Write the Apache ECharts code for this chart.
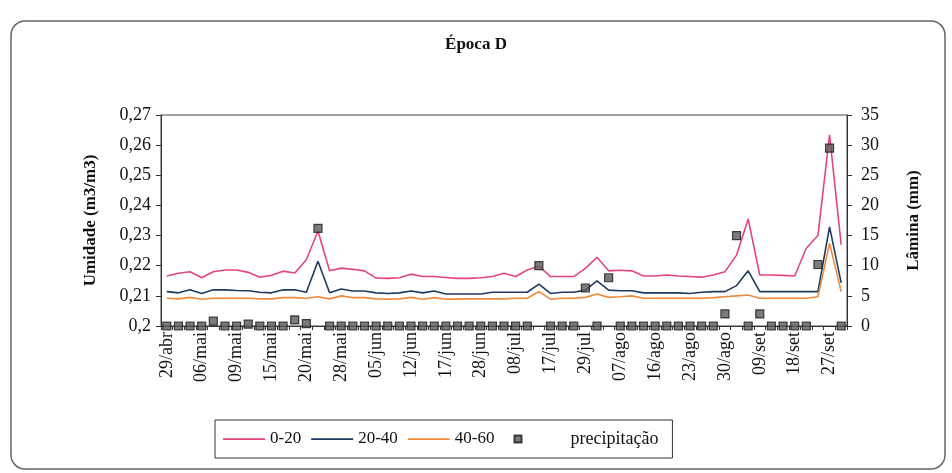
<!DOCTYPE html>
<html>
<head>
<meta charset="utf-8">
<script src="https://cdn.jsdelivr.net/npm/echarts@6/dist/echarts.min.js"></script>
<style>html,body{margin:0;padding:0;background:#fff}#c{width:952px;height:473px}</style>
</head>
<body>
<div id="c"></div>
<script>
const categories = ['29/abr','02/mai','04/mai','06/mai','07/mai','08/mai','09/mai','11/mai','13/mai','15/mai','17/mai','18/mai','20/mai','22/mai','25/mai','28/mai','31/mai','02/jun','05/jun','07/jun','10/jun','12/jun','14/jun','15/jun','17/jun','21/jun','24/jun','28/jun','01/jul','05/jul','08/jul','11/jul','14/jul','17/jul','21/jul','25/jul','29/jul','01/ago','04/ago','07/ago','10/ago','13/ago','16/ago','18/ago','21/ago','23/ago','25/ago','28/ago','30/ago','02/set','06/set','09/set','12/set','15/set','18/set','21/set','24/set','27/set','30/set'];

const s0_20 = [0.2166,0.2175,0.2180,0.2160,0.2180,0.2186,0.2186,0.2178,0.2162,0.2168,0.2182,0.2176,0.2220,0.2315,0.2183,0.2192,0.2188,0.2183,0.2159,0.2158,0.2160,0.2172,0.2164,0.2164,0.2161,0.2158,0.2158,0.2160,0.2164,0.2175,0.2164,0.2186,0.2199,0.2164,0.2164,0.2164,0.2191,0.2228,0.2183,0.2185,0.2183,0.2166,0.2166,0.2169,0.2166,0.2164,0.2162,0.2169,0.2180,0.2235,0.2355,0.2169,0.2169,0.2168,0.2166,0.2258,0.2300,0.2634,0.2269];

const s20_40 = [0.2114,0.2110,0.2120,0.2108,0.2120,0.2120,0.2118,0.2117,0.2112,0.2110,0.2120,0.2120,0.2112,0.2215,0.2110,0.2123,0.2116,0.2116,0.2110,0.2108,0.2110,0.2116,0.2110,0.2116,0.2106,0.2106,0.2106,0.2106,0.2112,0.2112,0.2112,0.2112,0.2139,0.2108,0.2112,0.2112,0.2119,0.2150,0.2119,0.2117,0.2117,0.2110,0.2110,0.2110,0.2110,0.2108,0.2112,0.2114,0.2114,0.2134,0.2183,0.2114,0.2114,0.2114,0.2114,0.2114,0.2114,0.2329,0.2143];

const s40_60 = [0.2092,0.2090,0.2095,0.2089,0.2092,0.2092,0.2092,0.2092,0.2090,0.2090,0.2094,0.2094,0.2092,0.2097,0.2090,0.2100,0.2094,0.2094,0.2090,0.2089,0.2090,0.2095,0.2089,0.2094,0.2089,0.2089,0.2090,0.2090,0.2090,0.2090,0.2092,0.2092,0.2114,0.2089,0.2092,0.2092,0.2095,0.2106,0.2095,0.2097,0.2100,0.2092,0.2092,0.2092,0.2092,0.2092,0.2092,0.2094,0.2097,0.2100,0.2103,0.2092,0.2092,0.2092,0.2092,0.2092,0.2097,0.2274,0.2114];

const precipitacao = [0,0,0,0,0.8,0,0,0.3,0,0,0,1.0,0.4,16.2,0,0,0,0,0,0,0,0,0,0,0,0,0,0,0,0,0,0,10.0,0,0,0,6.3,0,8.0,0,0,0,0,0,0,0,0,0,2.0,15.0,0,2.0,0,0,0,0,10.2,29.5,0];

const seriesNames = ['0-20','20-40','40-60','precipitação'];
const leftTicks = {min:0.2, max:0.27, interval:0.01};
const rightTicks = {min:0, max:35, interval:5};

const serif = '"Liberation Serif", "DejaVu Serif", serif';
const lineIcon = 'path://M0,0M42,14M0,6.3h42v1.6h-42z';
const chart = echarts.init(document.getElementById('c'), null, {renderer:'canvas'});
chart.setOption({
  animation:false,
  backgroundColor:'#fff',
  title:{text:'Época D', left:'center', top:31, textStyle:{fontFamily:serif, fontSize:17, fontWeight:'bold', color:'#111'}},
  graphic:[{type:'rect', shape:{x:11,y:21,width:934,height:448,r:14}, style:{fill:'none', stroke:'#666', lineWidth:1.5}, silent:true, z:-1}],
  grid:{left:161, right:105, top:115, bottom:147, show:true, borderColor:'#444', borderWidth:1, backgroundColor:'transparent'},
  legend:{
    left:215, top:420, padding:[10,14,10,8], borderColor:'#333', borderWidth:1,
    itemWidth:42, itemHeight:14, itemGap:10,
    textStyle:{fontFamily:serif, fontSize:17, color:'#111'},
    data:[
      {name:'0-20', icon:lineIcon},{name:'20-40', icon:lineIcon},{name:'40-60', icon:lineIcon},
      {name:'precipitação', icon:'path://M0,0M42,14M9,3.5h7v7h-7z', textStyle:{fontSize:18}}
    ],
    formatter:function(n){ return n==='precipitação' ? '    '+n : n; }
  },
  xAxis:{
    type:'category', data:categories, boundaryGap:true,
    axisLine:{lineStyle:{color:'#333', width:1}},
    axisTick:{show:true, interval:0, length:4, lineStyle:{color:'#333'}},
    axisLabel:{interval:2, rotate:90, fontFamily:serif, fontSize:18, color:'#111', margin:6},
    splitLine:{show:false}
  },
  yAxis:[
    {type:'value', min:leftTicks.min, max:leftTicks.max, interval:leftTicks.interval, position:'left',
     name:'Umidade (m3/m3)', nameLocation:'middle', nameRotate:90, nameGap:62,
     nameTextStyle:{fontFamily:serif, fontSize:17, fontWeight:'bold', color:'#111'},
     axisLine:{show:true, lineStyle:{color:'#333'}},
     axisTick:{show:true, length:5, lineStyle:{color:'#333'}},
     axisLabel:{fontFamily:serif, fontSize:18, color:'#111', margin:10, formatter:function(v){return String(parseFloat(v.toFixed(2))).replace('.',',');}},
     splitLine:{show:false}},
    {type:'value', min:rightTicks.min, max:rightTicks.max, interval:rightTicks.interval, position:'right',
     name:'Lâmina (mm)', nameLocation:'middle', nameRotate:90, nameGap:58,
     nameTextStyle:{fontFamily:serif, fontSize:17, fontWeight:'bold', color:'#111'},
     axisLine:{show:true, lineStyle:{color:'#333'}},
     axisTick:{show:true, length:5, lineStyle:{color:'#333'}},
     axisLabel:{fontFamily:serif, fontSize:18, color:'#111', margin:14},
     splitLine:{show:false}}
  ],
  series:[
    {name:seriesNames[0], type:'line', data:s0_20, yAxisIndex:0, symbol:'none', showSymbol:false, lineStyle:{color:'#e4457f', width:1.6}, itemStyle:{color:'#e4457f'}},
    {name:seriesNames[1], type:'line', data:s20_40, yAxisIndex:0, symbol:'none', showSymbol:false, lineStyle:{color:'#1e3a62', width:1.6}, itemStyle:{color:'#1e3a62'}},
    {name:seriesNames[2], type:'line', data:s40_60, yAxisIndex:0, symbol:'none', showSymbol:false, lineStyle:{color:'#f08a3c', width:1.6}, itemStyle:{color:'#f08a3c'}},
    {name:seriesNames[3], type:'scatter', data:precipitacao, yAxisIndex:1, symbol:'rect', symbolSize:8, z:5,
     itemStyle:{color:'#5a5a5a', borderColor:'#1a1a1a', borderWidth:1.2}}
  ]
});
</script>
</body>
</html>
